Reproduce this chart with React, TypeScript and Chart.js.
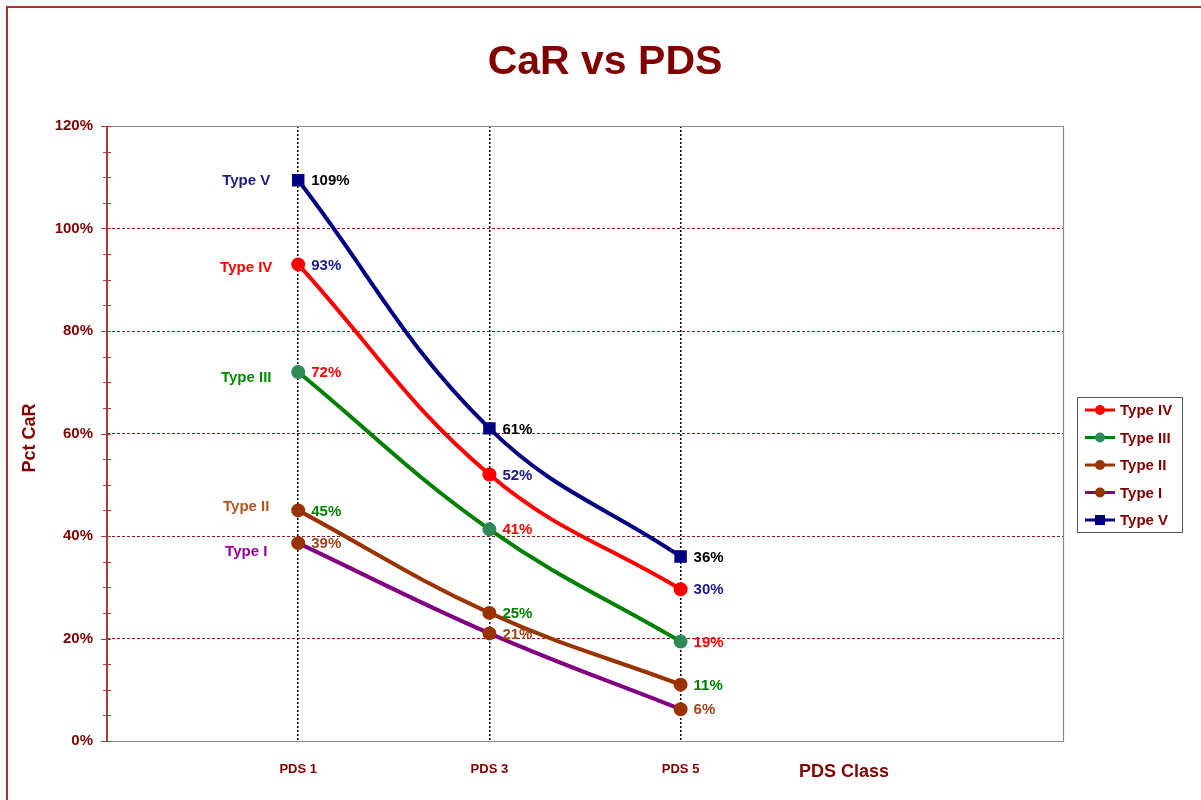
import React, { useEffect, useRef } from 'react';
import { Chart, registerables } from 'chart.js';

Chart.register(...registerables);

// ---------- data ----------
const pdsClasses = [1, 3, 5];
const xTickLabels = ['PDS 1', 'PDS 3', 'PDS 5'];
const seriesNames = ['Type V', 'Type IV', 'Type III', 'Type II', 'Type I'];
const typeV = [109.4, 61, 36];
const typeIV = [93, 52, 29.6];
const typeIII = [72, 41.3, 19.4];
const typeII = [45, 25, 11];
const typeI = [38.6, 21, 6.2];
const seriesValues = [typeV, typeIV, typeIII, typeII, typeI];
const legendOrder = ['Type IV', 'Type III', 'Type II', 'Type I', 'Type V'];
const yMax = 120;
const yStep = 20;

// ---------- styles ----------
const FONT = 'Arial, "Liberation Sans", sans-serif';
const DARK_RED = '#800000';
const lineColors = ['#000080', '#ff0000', '#008000', '#993300', '#800080'];
const pointColors = ['#000080', '#ff0000', '#2e8b57', '#993300', '#993300'];
const pointStyles = ['rect', 'circle', 'circle', 'circle', 'circle'];
const valueLabelColors = ['#000000', '#1a1a8c', '#ff0000', '#008000', '#a0451a'];
const nameLabelColors = ['#1a1a8c', '#ff0000', '#008a00', '#b0561e', '#990099'];
const nameLabelDy = [0, 2, 5, -5, 8];

const decorPlugin = {
  id: 'decor',
  beforeDraw(chart: any) {
    const ctx = chart.ctx;
    ctx.save();
    ctx.fillStyle = '#ffffff';
    ctx.fillRect(0, 0, chart.width, chart.height);
    ctx.strokeStyle = '#a83434';
    ctx.lineWidth = 2;
    ctx.strokeRect(7, 7, chart.width + 50, chart.height + 50);
    ctx.restore();
  },
  afterDraw(chart: any) {
    const ctx = chart.ctx;
    const area = chart.chartArea;
    const yScale = chart.scales.y;
    ctx.save();

    // plot border (top/right/bottom gray)
    ctx.strokeStyle = '#8a8a8a';
    ctx.lineWidth = 1.2;
    ctx.beginPath();
    ctx.moveTo(area.left, area.top + 0.5);
    ctx.lineTo(area.right + 0.5, area.top + 0.5);
    ctx.lineTo(area.right + 0.5, area.bottom + 0.5);
    ctx.lineTo(area.left, area.bottom + 0.5);
    ctx.stroke();

    // y axis line + tick marks
    ctx.strokeStyle = '#a83a3a';
    ctx.lineWidth = 2;
    ctx.beginPath();
    ctx.moveTo(area.left, area.top);
    ctx.lineTo(area.left, area.bottom + 1);
    ctx.stroke();
    for (let v = 0; v <= yMax; v += 5) {
      const y = Math.round(yScale.getPixelForValue(v)) + 0.5;
      const major = v % yStep === 0;
      ctx.lineWidth = 1;
      ctx.beginPath();
      ctx.moveTo(area.left - (major ? 6 : 4), y);
      ctx.lineTo(area.left + 4, y);
      ctx.stroke();
    }

    // value labels & series-name labels
    chart.data.datasets.forEach((ds: any, i: number) => {
      const meta = chart.getDatasetMeta(i);
      ctx.font = `bold 15px ${FONT}`;
      ctx.textBaseline = 'middle';
      ctx.textAlign = 'left';
      ctx.fillStyle = valueLabelColors[i];
      meta.data.forEach((pt: any, j: number) => {
        ctx.fillText(Math.round(ds.data[j].y) + '%', pt.x + 13, pt.y + 1);
      });
      const first = meta.data[0];
      ctx.textAlign = 'center';
      ctx.fillStyle = nameLabelColors[i];
      ctx.fillText(ds.label, first.x - 52, first.y + 1 + nameLabelDy[i]);
    });

    // legend
    const lx = 1077, ly = 397, lw = 105, lh = 135;
    ctx.strokeStyle = '#555555';
    ctx.lineWidth = 1;
    ctx.strokeRect(lx + 0.5, ly + 0.5, lw, lh);
    legendOrder.forEach((name, k) => {
      const i = seriesNames.indexOf(name);
      const y = 410 + k * 27.5;
      ctx.strokeStyle = lineColors[i];
      ctx.lineWidth = 3;
      ctx.beginPath();
      ctx.moveTo(1085, y);
      ctx.lineTo(1115, y);
      ctx.stroke();
      ctx.fillStyle = pointColors[i];
      if (pointStyles[i] === 'rect') {
        ctx.fillRect(1100 - 5, y - 5, 10, 10);
      } else {
        ctx.beginPath();
        ctx.arc(1100, y, 5, 0, Math.PI * 2);
        ctx.fill();
      }
      ctx.fillStyle = DARK_RED;
      ctx.font = `bold 15px ${FONT}`;
      ctx.textAlign = 'left';
      ctx.textBaseline = 'middle';
      ctx.fillText(name, 1120, y + 1);
    });

    // title
    ctx.fillStyle = DARK_RED;
    ctx.font = `bold 41px ${FONT}`;
    ctx.textAlign = 'center';
    ctx.textBaseline = 'alphabetic';
    ctx.fillText('CaR vs PDS', 605, 74);

    // x axis title
    ctx.font = `bold 18px ${FONT}`;
    ctx.fillText('PDS Class', 844, 777);

    // y axis title
    ctx.save();
    ctx.translate(35, 438);
    ctx.rotate(-Math.PI / 2);
    ctx.textBaseline = 'alphabetic';
    ctx.fillText('Pct CaR', 0, 0);
    ctx.restore();

    ctx.restore();
  },
};

export default function App() {
  const ref = useRef<HTMLCanvasElement>(null);
  useEffect(() => {
    const datasets = seriesNames.map((name, i) => ({
      label: name,
      data: pdsClasses.map((x, j) => ({ x, y: seriesValues[i][j] })),
      borderColor: lineColors[i],
      backgroundColor: pointColors[i],
      pointBackgroundColor: pointColors[i],
      pointBorderColor: pointColors[i],
      pointStyle: pointStyles[i],
      pointRadius: pointStyles[i] === 'rect' ? 6 : 5,
      borderWidth: 4,
      tension: 0.4,
      fill: false,
    }));
    const chart = new Chart(ref.current!, {
      type: 'line',
      data: { datasets },
      plugins: [decorPlugin],
      options: {
        responsive: false,
        animation: false,
        events: [],
        layout: { padding: { top: 126, right: 138, left: 0, bottom: 0 } },
        plugins: {
          legend: { display: false },
          title: { display: false },
          tooltip: { enabled: false },
        },
        scales: {
          x: {
            type: 'linear',
            min: -1,
            max: 9,
            afterBuildTicks: (scale: any) => {
              scale.ticks = pdsClasses.map((v) => ({ value: v }));
            },
            afterFit: (scale: any) => {
              scale.height = 59;
            },
            border: { display: false, dash: [2, 2] },
            grid: {
              color: '#000000',
              lineWidth: 1.5,
              drawTicks: false,
            },
            ticks: {
              padding: 21,
              color: DARK_RED,
              font: { family: FONT, size: 13, weight: 'bold' },
              callback: (v: any) => xTickLabels[pdsClasses.indexOf(Number(v))] ?? '',
              maxRotation: 0,
              autoSkip: false,
            },
          } as any,
          y: {
            min: 0,
            max: yMax,
            afterFit: (scale: any) => {
              scale.width = 107;
            },
            border: { display: false, dash: [3, 2] },
            grid: {
              color: (c: any) =>
                c.tick && (c.tick.value === 0 || c.tick.value === yMax) ? 'rgba(0,0,0,0)' : '#8b1a1a',
              lineWidth: 1,
              drawTicks: false,
            },
            ticks: {
              stepSize: yStep,
              padding: 14,
              color: DARK_RED,
              font: { family: FONT, size: 15, weight: 'bold' },
              callback: (v: any) => v + '%',
            },
          } as any,
        },
      },
    });
    return () => chart.destroy();
  }, []);
  return (
    <div style={{ position: 'fixed', left: 0, top: 0, width: 1201, height: 800, background: '#fff' }}>
      <canvas ref={ref} width={1201} height={800} style={{ display: 'block' }} />
    </div>
  );
}
